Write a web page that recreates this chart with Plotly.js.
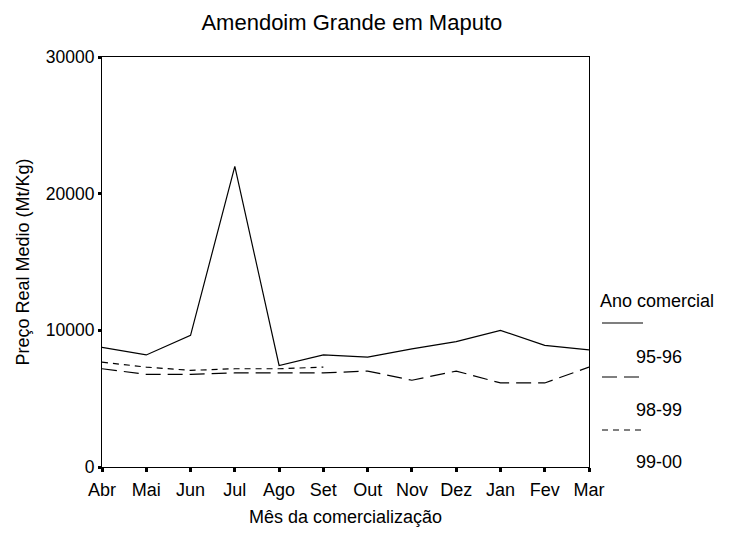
<!DOCTYPE html>
<html>
<head>
<meta charset="utf-8">
<script src="https://cdn.plot.ly/plotly-3.0.1.min.js"></script>
<style>html,body{margin:0;padding:0;background:#fff;}#chart{width:733px;height:553px;}</style>
</head>
<body>
<div id="chart"></div>
<script>
const months = ["Abr","Mai","Jun","Jul","Ago","Set","Out","Nov","Dez","Jan","Fev","Mar"];
const s9596 = [8750, 8200, 9630, 22000, 7430, 8200, 8040, 8640, 9170, 10000, 8900, 8570];
const s9899 = [7190, 6780, 6780, 6880, 6880, 6880, 7020, 6350, 7020, 6150, 6150, 7310];
const s9900 = [7670, 7310, 7070, 7190, 7190, 7310, null, null, null, null, null, null];
const seriesNames = ["95-96", "98-99", "99-00"];
const yTicks = [0, 10000, 20000, 30000];

const dashes = ["solid", "15px,7px", "6px,5px"];
const seriesData = [s9596, s9899, s9900];

const traces = seriesData.map((vals, i) => ({
  type: "scatter",
  mode: "lines",
  x: months.map((m, j) => j),
  y: vals,
  name: seriesNames[i],
  line: {color: "#000", width: 1.2, dash: dashes[i]},
  connectgaps: false,
  hoverinfo: "skip",
  showlegend: false
}));

// legend drawn as annotations + shapes (paper coords)
const pw = 487, ph = 410;
const shapes = [];
const annotations = [
  {xref: "paper", yref: "paper", x: (598 - 102) / pw, y: (467 - 301) / ph, xanchor: "left", yanchor: "middle",
   text: "Ano comercial", showarrow: false, font: {size: 18, color: "#000"}}
];
const legY = [323, 377, 430];
const txtY = [357, 410, 462];
seriesNames.forEach((nm, i) => {
  shapes.push({type: "line", xref: "paper", yref: "paper",
    x0: (602 - 102) / pw, x1: (643 - 102) / pw,
    y0: (467 - legY[i]) / ph, y1: (467 - legY[i]) / ph,
    line: {color: "#000", width: 1.2, dash: dashes[i]}});
  annotations.push({xref: "paper", yref: "paper", x: (634 - 102) / pw, y: (467 - txtY[i]) / ph,
    xanchor: "left", yanchor: "middle", text: nm, showarrow: false, font: {size: 18, color: "#000"}});
});

const layout = {
  width: 733, height: 553,
  margin: {l: 102, r: 144, t: 57, b: 86},
  paper_bgcolor: "#fff", plot_bgcolor: "#fff",
  font: {family: "Liberation Sans, Arial, sans-serif", size: 18, color: "#000"},
  title: {text: "Amendoim Grande em Maputo", x: 0.48, xanchor: "center", y: 0.96, yanchor: "middle",
          font: {size: 22, color: "#000"}},
  xaxis: {
    range: [0, 11], tickmode: "array", tickvals: months.map((m, j) => j), ticktext: months,
    showgrid: false, zeroline: false, showline: true, mirror: true, linecolor: "#000", linewidth: 1,
    ticks: "outside", ticklen: 4, tickwidth: 3, tickcolor: "#000", ticklabelstandoff: 2,
    tickfont: {size: 18},
    title: {text: "Mês da comercialização", standoff: 11, font: {size: 18}},
    fixedrange: true
  },
  yaxis: {
    range: [0, 30000], tickmode: "array", tickvals: yTicks, tickformat: "d",
    showgrid: false, zeroline: false, showline: true, mirror: true, linecolor: "#000", linewidth: 1,
    ticks: "outside", ticklen: 3, tickwidth: 3, tickcolor: "#000",
    tickfont: {size: 17.5},
    title: {text: "Preço Real Medio (Mt/Kg)", standoff: 11, font: {size: 18}},
    fixedrange: true
  },
  shapes: shapes,
  annotations: annotations,
  showlegend: false
};

Plotly.newPlot("chart", traces, layout, {staticPlot: true, displayModeBar: false});
</script>
</body>
</html>
